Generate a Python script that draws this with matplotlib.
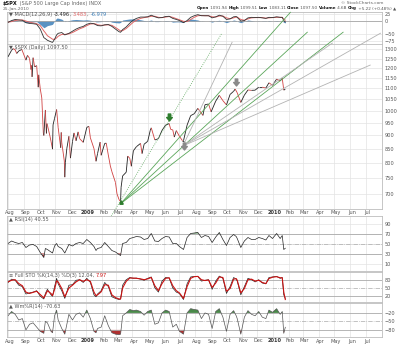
import numpy as np
import pandas as pd
import matplotlib
matplotlib.use("Agg")
import matplotlib.pyplot as plt
import matplotlib.dates as mdates
from matplotlib.collections import LineCollection
from matplotlib.path import Path

plt.rcParams['font.family'] = ['DejaVu Sans']

# ---- price data ----
price_dates = pd.to_datetime([
    '2008-08-01', '2008-08-08', '2008-08-11', '2008-08-15', '2008-08-18', '2008-08-22',
    '2008-08-28', '2008-09-05', '2008-09-08', '2008-09-12', '2008-09-15', '2008-09-16',
    '2008-09-17', '2008-09-19', '2008-09-22', '2008-09-26', '2008-09-29', '2008-09-30',
    '2008-10-03', '2008-10-06', '2008-10-09', '2008-10-10', '2008-10-13', '2008-10-15',
    '2008-10-16', '2008-10-17', '2008-10-22', '2008-10-24', '2008-10-27', '2008-10-28',
    '2008-10-31', '2008-11-04', '2008-11-07', '2008-11-12', '2008-11-13', '2008-11-14',
    '2008-11-19', '2008-11-20', '2008-11-21', '2008-11-24', '2008-11-28', '2008-12-01',
    '2008-12-05', '2008-12-08', '2008-12-12', '2008-12-16', '2008-12-19', '2008-12-26',
    '2009-01-02', '2009-01-06', '2009-01-09', '2009-01-16', '2009-01-20', '2009-01-23',
    '2009-01-28', '2009-01-30', '2009-02-06', '2009-02-09', '2009-02-13', '2009-02-17',
    '2009-02-20', '2009-02-27', '2009-03-02', '2009-03-06', '2009-03-09', '2009-03-10',
    '2009-03-13', '2009-03-20', '2009-03-23', '2009-03-27', '2009-03-30', '2009-04-03',
    '2009-04-09', '2009-04-17', '2009-04-20', '2009-04-24', '2009-05-01', '2009-05-06',
    '2009-05-08', '2009-05-15', '2009-05-22', '2009-05-29', '2009-06-05', '2009-06-12',
    '2009-06-15', '2009-06-19', '2009-06-22', '2009-06-26', '2009-07-02', '2009-07-08',
    '2009-07-10', '2009-07-17', '2009-07-24', '2009-07-31', '2009-08-07', '2009-08-17',
    '2009-08-21', '2009-08-28', '2009-09-02', '2009-09-11', '2009-09-18', '2009-09-25',
    '2009-10-02', '2009-10-09', '2009-10-16', '2009-10-19', '2009-10-23', '2009-10-30',
    '2009-11-06', '2009-11-13', '2009-11-20', '2009-11-27', '2009-12-04', '2009-12-11',
    '2009-12-18', '2009-12-24', '2009-12-31', '2010-01-08', '2010-01-15', '2010-01-19',
    '2010-01-22', '2010-01-25'])
close = [1260, 1296, 1305, 1298, 1278, 1292,
         1300, 1242, 1268, 1252, 1193, 1214,
         1156, 1255, 1207, 1213, 1106, 1166,
         1099, 1056, 909, 899, 1003, 907,
         946, 940, 896, 877, 848, 941,
         968, 1005, 930, 853, 911, 873,
         806, 752, 800, 851, 896, 816,
         876, 909, 879, 913, 887, 873,
         931, 935, 890, 850, 805, 832,
         874, 826, 869, 870, 827, 789,
         770, 735, 700, 683, 677, 720,
         756, 768, 823, 815, 788, 842,
         857, 869, 832, 866, 877, 919,
         929, 882, 887, 919, 940, 946,
         923, 921, 893, 918, 896, 879,
         879, 940, 979, 987, 1010, 980,
         1026, 1029, 995, 1042, 1068, 1044,
         1025, 1072, 1087, 1097, 1080, 1036,
         1069, 1093, 1091, 1092, 1106, 1106,
         1102, 1127, 1115, 1145, 1136, 1150,
         1092, 1097.5]

# ---- indicator data (roughly weekly) ----
ind_dates = pd.to_datetime([
    '2008-08-01', '2008-08-08', '2008-08-15', '2008-08-22', '2008-08-29', '2008-09-05',
    '2008-09-12', '2008-09-19', '2008-09-26', '2008-10-03', '2008-10-10', '2008-10-13',
    '2008-10-17', '2008-10-24', '2008-10-27', '2008-10-31', '2008-11-04', '2008-11-07',
    '2008-11-14', '2008-11-20', '2008-11-28', '2008-12-05', '2008-12-12', '2008-12-19',
    '2008-12-26', '2009-01-02', '2009-01-09', '2009-01-16', '2009-01-20', '2009-01-23',
    '2009-01-30', '2009-02-06', '2009-02-13', '2009-02-20', '2009-02-27', '2009-03-06',
    '2009-03-09', '2009-03-13', '2009-03-20', '2009-03-27', '2009-04-03', '2009-04-09',
    '2009-04-17', '2009-04-24', '2009-05-01', '2009-05-08', '2009-05-15', '2009-05-22',
    '2009-05-29', '2009-06-05', '2009-06-12', '2009-06-19', '2009-06-26', '2009-07-02',
    '2009-07-10', '2009-07-17', '2009-07-24', '2009-07-31', '2009-08-07', '2009-08-14',
    '2009-08-21', '2009-08-28', '2009-09-04', '2009-09-11', '2009-09-18', '2009-09-25',
    '2009-10-02', '2009-10-09', '2009-10-16', '2009-10-21', '2009-10-23', '2009-10-30',
    '2009-11-06', '2009-11-13', '2009-11-20', '2009-11-27', '2009-12-04', '2009-12-11',
    '2009-12-18', '2009-12-24', '2009-12-31', '2010-01-08', '2010-01-15', '2010-01-19',
    '2010-01-22', '2010-01-25'])

macd = [-5, 2, 6, 4, 3, -6, -9, -10, -12, -30, -62, -66,
        -72, -78, -80, -68, -52, -46, -43, -52, -46, -38, -30, -24,
        -20, -12, -8, -10, -14, -17, -18, -14, -13, -20, -30, -40,
        -42, -32, -22, -8, 4, 10, 15, 15, 16, 22, 16, 12,
        13, 17, 18, 10, 6, 2, -6, 2, 14, 20, 24, 20,
        20, 20, 12, 16, 22, 18, 6, 8, 16, 17, 14, 0,
        2, 12, 14, 13, 14, 12, 10, 14, 13, 16, 14, 14,
        2, -3.5]
macd_signal = [-4, -2, 2, 4, 4, 0, -4, -7, -10, -17, -37, -44,
               -55, -64, -68, -69, -63, -57, -50, -50, -48, -43, -36, -29,
               -24, -17, -11, -10, -11, -14, -16, -15, -14, -16, -24, -33,
               -37, -36, -28, -16, -4, 3, 10, 13, 15, 18, 18, 14,
               13, 15, 17, 14, 9, 5, -1, -2, 6, 14, 20, 21,
               20, 20, 16, 15, 19, 19, 12, 9, 12, 15, 15, 6,
               3, 8, 12, 13, 13, 13, 11, 12, 13, 14, 14, 14,
               7, 3.5]

rsi = [50, 55, 52, 50, 52, 42, 47, 48, 44, 32, 22, 40,
       38, 33, 31, 45, 50, 44, 40, 31, 48, 45, 50, 52,
       50, 58, 52, 44, 36, 40, 42, 52, 44, 36, 33, 28,
       26, 50, 52, 60, 62, 64, 63, 58, 60, 70, 55, 54,
       60, 64, 63, 50, 50, 44, 38, 62, 70, 71, 72, 62,
       66, 64, 52, 63, 72, 58, 46, 62, 68, 64, 60, 42,
       55, 62, 58, 58, 62, 60, 57, 66, 60, 70, 60, 66,
       38, 40.55]

sto_k = [70, 82, 78, 60, 55, 28, 32, 35, 40, 20, 10, 30,
         45, 25, 20, 55, 85, 65, 40, 12, 60, 62, 78, 80,
         70, 85, 70, 25, 18, 28, 40, 70, 55, 18, 12, 8,
         10, 60, 80, 88, 85, 86, 82, 78, 85, 90, 50, 35,
         75, 88, 86, 50, 35, 30, 8, 65, 90, 92, 92, 75,
         78, 80, 45, 75, 93, 85, 30, 55, 88, 82, 75, 25,
         55, 85, 80, 72, 80, 68, 65, 88, 90, 92, 85, 88,
         25, 12.04]
sto_d = [72, 78, 80, 66, 58, 35, 30, 34, 38, 26, 14, 24,
         40, 30, 22, 45, 76, 72, 48, 18, 50, 60, 72, 80,
         74, 80, 74, 35, 22, 25, 36, 62, 60, 25, 15, 10,
         10, 50, 74, 86, 86, 85, 83, 80, 83, 88, 58, 40,
         66, 85, 87, 58, 40, 32, 12, 55, 85, 91, 92, 80,
         77, 79, 52, 68, 90, 88, 38, 48, 82, 84, 78, 32,
         48, 80, 82, 75, 78, 70, 66, 84, 89, 91, 87, 87,
         35, 7.97]

wmr = [-30, -15, -25, -45, -40, -80, -60, -55, -70, -85, -92, -50,
       -55, -85, -90, -30, -10, -45, -75, -95, -25, -45, -25, -20,
       -35, -10, -40, -85, -90, -75, -70, -30, -65, -90, -95, -97,
       -95, -30, -20, -8, -12, -10, -15, -28, -15, -10, -60, -55,
       -20, -10, -15, -70, -60, -85, -95, -20, -5, -8, -10, -40,
       -20, -25, -75, -15, -5, -35, -85, -25, -12, -30, -40, -95,
       -35, -12, -25, -30, -15, -35, -40, -10, -18, -5, -25, -15,
       -92, -70.63]

price_ticks = [700, 750, 800, 850, 900, 950, 1000, 1050, 1100, 1150, 1200, 1250, 1300]
month_starts = pd.date_range('2008-08-01', '2010-07-01', freq='MS')

# trend lines drawn over the price panel: start/end date and price
line_start_dates = pd.to_datetime(['2009-02-12', '2009-03-09', '2009-03-09', '2009-03-09',
                                   '2009-07-09', '2009-07-09', '2009-07-09', '2009-07-09'])
line_start_prices = [621, 671, 671, 671, 860, 860, 860, 860]
line_end_dates = pd.to_datetime(['2009-09-23', '2010-02-04', '2010-03-09', '2010-05-18',
                                 '2009-10-13', '2010-04-27', '2010-07-30', '2010-07-10'])
line_end_prices = [1394, 1525, 1400, 1400, 1341, 1336, 1394, 1216]
line_colors = ['g', 'g', 'g', 'g', 'k', 'k', 'k', 'k']
line_styles = [':', '-', '-', '-', '-', '-', '-', '-']

arrow_dates = pd.to_datetime(['2009-06-12', '2009-10-21', '2009-07-10'])
arrow_prices = [975, 1130, 858]
arrow_colors = ['#2e7d2e', '#8a8a8a', '#8a8a8a']

# ---- styling ----
GREEN = '#5aa65a'
GRAY_LINE = '#b3b3b3'
GRID = '#e3e3e3'
BORDER = '#bdbdbd'
TXT = '#555555'
FS = 3.6

W_PX, H_PX = 400, 345
fig = plt.figure(figsize=(W_PX / 100, H_PX / 100), dpi=100)
fig.patch.set_facecolor('white')

x_left, x_right = 7, 382


def panel(top, bottom):
    return fig.add_axes([x_left / W_PX, 1 - bottom / H_PX,
                         (x_right - x_left) / W_PX, (bottom - top) / H_PX])


ax_macd = panel(12, 44)
ax_main = panel(44, 209)
ax_rsi = panel(216, 271)
ax_sto = panel(272, 302)
ax_wmr = panel(303, 337)
axes = [ax_macd, ax_main, ax_rsi, ax_sto, ax_wmr]

xmin = mdates.date2num(pd.Timestamp('2008-07-30'))
xmax = mdates.date2num(pd.Timestamp('2010-08-02'))
xd = mdates.date2num(ind_dates)
xp = mdates.date2num(price_dates)

for ax in axes:
    ax.set_xlim(xmin, xmax)
    for s in ax.spines.values():
        s.set_color(BORDER)
        s.set_linewidth(0.6)
    ax.yaxis.tick_right()
    ax.tick_params(axis='y', length=0, labelsize=FS, labelcolor=TXT, pad=2)
    ax.tick_params(axis='x', length=0, labelbottom=False)
    ax.set_xticks(mdates.date2num(month_starts))
    ax.grid(axis='x', color=GRID, lw=0.5)
    ax.set_axisbelow(True)

# ---- MACD ----
hist = np.array(macd) - np.array(macd_signal)
ax_macd.set_ylim(-86, 34)
ax_macd.set_yticks([25, 0, -50, -75])
ax_macd.grid(axis='y', color=GRID, lw=0.5)
ax_macd.axhline(0, color='#999999', lw=0.5)
ax_macd.fill_between(xd, 0, hist, color='#3d7fb8', alpha=0.85, lw=0)
ax_macd.plot(xd, macd_signal, color='#e06666', lw=0.7)
ax_macd.plot(xd, macd, color='#333333', lw=0.6)

# ---- price panel ----
ax_main.set_yscale('log')
ax_main.set_ylim(656, 1331)
ax_main.set_yticks(price_ticks)
ax_main.set_yticklabels([str(v) for v in price_ticks])
ax_main.yaxis.set_minor_locator(matplotlib.ticker.NullLocator())
ax_main.grid(axis='y', color=GRID, lw=0.5)

pts = np.column_stack([xp, close])
segs = np.stack([pts[:-1], pts[1:]], axis=1)
seg_colors = ['#222222' if close[i + 1] >= close[i] else '#d04040' for i in range(len(close) - 1)]
ax_main.add_collection(LineCollection(segs, colors=seg_colors, linewidths=0.6))

for i in range(len(line_colors)):
    c = GREEN if line_colors[i] == 'g' else GRAY_LINE
    ax_main.plot(mdates.date2num([line_start_dates[i], line_end_dates[i]]),
                 [line_start_prices[i], line_end_prices[i]],
                 color=c, lw=0.6, ls=line_styles[i], clip_on=False, zorder=3)

down_arrow = Path([(-0.35, 1), (0.35, 1), (0.35, 0), (0.8, 0), (0, -1), (-0.8, 0), (-0.35, 0), (-0.35, 1)],
                  [Path.MOVETO] + [Path.LINETO] * 6 + [Path.CLOSEPOLY])
for d, p, c in zip(arrow_dates, arrow_prices, arrow_colors):
    ax_main.plot(mdates.date2num(d), p, marker=down_arrow, ms=5, color=c, mec=c, zorder=5)
low_i = int(np.argmin(close))
ax_main.plot(xp[low_i], close[low_i], marker='^', ms=2.5, color='#2e7d2e', zorder=5, clip_on=False)

# ---- RSI ----
ax_rsi.set_ylim(-5, 105)
ax_rsi.set_yticks([90, 70, 50, 30, 10])
ax_rsi.grid(axis='y', color=GRID, lw=0.5)
for lvl in (70, 30):
    ax_rsi.axhline(lvl, color='#aaaaaa', lw=0.6)
ax_rsi.axhline(50, color='#aaaaaa', lw=0.5, ls='-.')
ax_rsi.plot(xd, rsi, color='#222222', lw=0.5)
ax_rsi.fill_between(xd, 70, rsi, where=np.array(rsi) > 70, color='#4a8a4a', lw=0, interpolate=True)
ax_rsi.fill_between(xd, 30, rsi, where=np.array(rsi) < 30, color='#c03030', lw=0, interpolate=True)

# ---- Full STO ----
ax_sto.set_ylim(-1, 108)
ax_sto.set_yticks([80, 50, 20])
for lvl in (80, 20):
    ax_sto.axhline(lvl, color='#aaaaaa', lw=0.6)
ax_sto.axhline(50, color='#aaaaaa', lw=0.5, ls='-.')
ax_sto.plot(xd, sto_k, color='#222222', lw=0.5)
ax_sto.plot(xd, sto_d, color='#cc1111', lw=0.8)

# ---- Williams %R ----
ax_wmr.set_ylim(-105, 15)
ax_wmr.set_yticks([-20, -50, -80])
for lvl in (-20, -80):
    ax_wmr.axhline(lvl, color='#aaaaaa', lw=0.6)
ax_wmr.axhline(-50, color='#aaaaaa', lw=0.5, ls='-.')
ax_wmr.plot(xd, wmr, color='#555555', lw=0.5)
ax_wmr.fill_between(xd, -20, wmr, where=np.array(wmr) > -20, color='#4a8a4a', lw=0, interpolate=True)
ax_wmr.fill_between(xd, -80, wmr, where=np.array(wmr) < -80, color='#b03030', lw=0, interpolate=True)

# ---- month labels (under price panel and at the bottom) ----
for ms in month_starts:
    lab = ms.strftime('%b') if ms.month != 1 else str(ms.year)
    wt = 'bold' if ms.month == 1 else 'normal'
    xm = mdates.date2num(ms + pd.Timedelta(days=3))
    for ax, ypix, bot, hgt in ((ax_main, 212.5, 209, 165), (ax_wmr, 341, 337, 34)):
        ax.text(xm, (bot - ypix) / hgt, lab, transform=ax.get_xaxis_transform(),
                ha='center', va='center', fontsize=FS,
                color='#333333' if wt == 'bold' else TXT, fontweight=wt)

# ---- header and panel labels ----
renderer = fig.canvas.get_renderer()


def rich_text(xpix, ypix, parts, size=FS):
    x = xpix
    for s, c, w in parts:
        t = fig.text(x / W_PX, 1 - ypix / H_PX, s, color=c, fontsize=size, fontweight=w,
                     ha='left', va='center')
        x += t.get_window_extent(renderer).width


rich_text(3, 3.5, [('$SPX', '#111111', 'bold'), (' (S&P 500 Large Cap Index) INDX', '#666666', 'normal')])
rich_text(3, 9, [('25-Jan-2010', '#666666', 'normal')], size=3.2)
rich_text(197, 8, [('Open', '#111111', 'bold'), (' 1091.94 ', '#555555', 'normal'),
                   ('High', '#111111', 'bold'), (' 1099.51 ', '#555555', 'normal'),
                   ('Low', '#111111', 'bold'), (' 1083.11 ', '#555555', 'normal'),
                   ('Close', '#111111', 'bold'), (' 1097.50 ', '#555555', 'normal'),
                   ('Volume', '#111111', 'bold'), (' 4.6B ', '#555555', 'normal'),
                   ('Chg', '#111111', 'bold'), (' +5.22 (+0.48%) \u25b2', '#555555', 'normal')],
          size=3.0)
fig.text(383 / W_PX, 1 - 3 / H_PX, '\u00a9 StockCharts.com', fontsize=3.2, color='#666666',
         ha='right', va='center')

rich_text(9, 14.5, [('\u25bc MACD(12,26,9) ', '#555555', 'normal'), ('-3.496', '#222222', 'normal'),
                    (', ', '#555555', 'normal'), ('3.483', '#e06666', 'normal'),
                    (', ', '#555555', 'normal'), ('-6.979', '#3d7fb8', 'normal')])
rich_text(9, 47.5, [('\u25bc $SPX (Daily) 1097.50', '#555555', 'normal')])
rich_text(9, 219, [('\u25b2 RSI(14) 40.55', '#555555', 'normal')])
rich_text(9, 275.5, [('\u2261 Full STO %K(14,3) %D(3) 12.04, ', '#555555', 'normal'),
                     ('7.97', '#cc1111', 'normal')])
rich_text(9, 306.5, [('\u25b2 Wm%R(14) -70.63', '#555555', 'normal')])

fig.savefig('out.png', dpi=100)
